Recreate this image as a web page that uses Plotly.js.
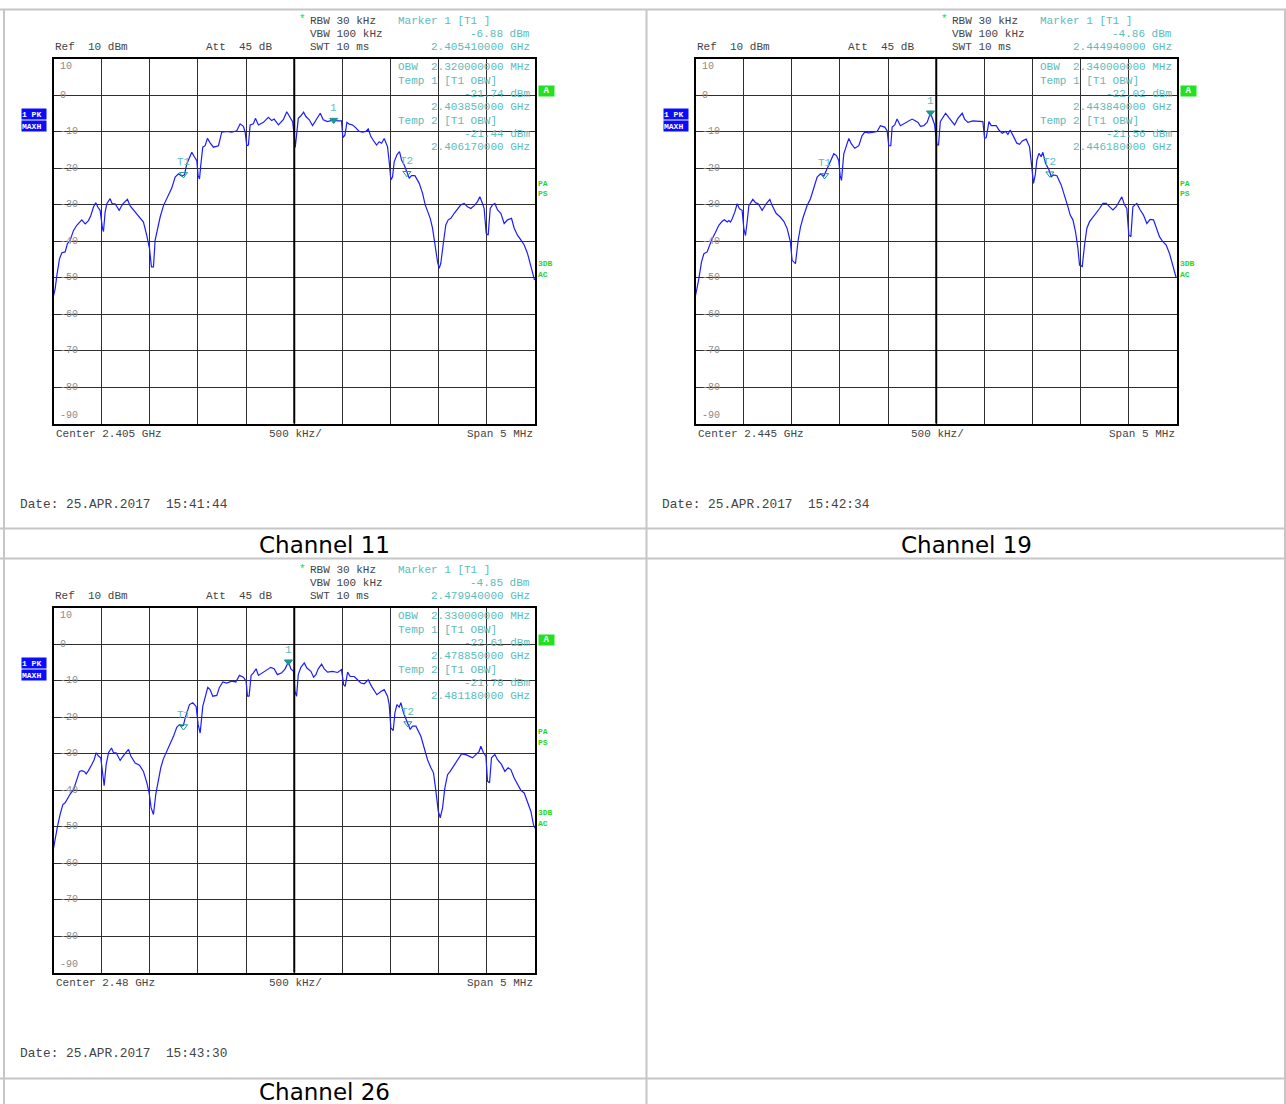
<!DOCTYPE html>
<html><head><meta charset="utf-8">
<script src="https://cdn.plot.ly/plotly-3.0.1.min.js"></script>
<style>body{margin:0;background:#fff}#chart{width:1286px;height:1104px}</style>
</head><body><div id="chart"></div>
<script>
// ---------- DATA ----------
const channels = ['Channel 11', 'Channel 19', 'Channel 26'];
const centerGHz = [2.405, 2.445, 2.48];
const marker1GHz = [2.405410, 2.444940, 2.479940];
const marker1dBm = [-6.88, -4.86, -4.85];
const obwMHz = [2.32, 2.34, 2.33];
const temp1GHz = [2.403850, 2.443840, 2.478850];
const temp1dBm = [-21.74, -22.02, -22.61];
const temp2GHz = [2.406170, 2.446180, 2.481180];
const temp2dBm = [-21.44, -21.56, -21.78];
const dates = ['25.APR.2017  15:41:44', '25.APR.2017  15:42:34', '25.APR.2017  15:43:30'];
const yTickVals = [10, 0, -10, -20, -30, -40, -50, -60, -70, -80, -90];

// trace: frequency offset from center (MHz) and level (dBm)
const ch11Freq = [-2.5,-2.483,-2.465,-2.438,-2.413,-2.379,-2.355,-2.327,-2.292,-2.258,-2.206,-2.171,-2.137,-2.112,-2.085,-2.061,-2.040,-2.016,-1.991,-1.981,-1.964,-1.946,-1.912,-1.891,-1.860,-1.818,-1.780,-1.732,-1.704,-1.652,-1.600,-1.566,-1.531,-1.503,-1.483,-1.462,-1.445,-1.420,-1.393,-1.358,-1.306,-1.272,-1.237,-1.202,-1.168,-1.140,-1.116,-1.088,-1.064,-1.036,-1.012,-0.998,-0.984,-0.971,-0.950,-0.926,-0.901,-0.874,-0.839,-0.787,-0.753,-0.701,-0.649,-0.597,-0.562,-0.528,-0.510,-0.493,-0.476,-0.458,-0.424,-0.403,-0.372,-0.320,-0.268,-0.234,-0.209,-0.164,-0.112,-0.078,
 -0.035,-0.017,0,0.010,0.024,0.042,0.069,0.097,0.121,0.156,0.190,0.225,0.270,0.301,0.346,0.408,0.450,0.491,0.505,0.526,0.547,0.571,0.606,0.640,0.675,0.709,0.744,0.768,0.796,0.830,0.855,0.882,0.907,0.934,0.969,0.986,1.003,1.021,1.038,1.066,1.093,1.114,1.142,1.176,1.194,1.218,1.253,1.298,1.332,1.360,1.384,1.412,1.436,1.460,1.488,1.505,1.522,1.550,1.574,1.599,1.626,1.661,1.696,1.730,1.765,1.799,1.834,1.869,1.903,1.927,1.955,1.972,1.993,2.014,2.035,2.059,2.083,2.111,2.145,2.180,2.215,2.256,2.284,2.318,2.353,2.388,2.422,2.457,2.484,2.495];
const ch11Level = [-55,-53.1,-49.4,-44.9,-43.2,-43.0,-40.7,-39.8,-37.1,-35.7,-34.2,-35.3,-34.4,-33.0,-30.7,-29.5,-30.7,-31.6,-36.6,-37.4,-32.1,-29.8,-28.4,-29.8,-29.8,-31.6,-29.8,-28.6,-30.4,-32.1,-33.5,-34.8,-38.5,-42.1,-47.1,-47.1,-39.8,-36.6,-33.5,-30.3,-27.5,-25.5,-22.5,-21.6,-22.2,-21.9,-18.9,-17.0,-15.7,-17.0,-18.0,-22.1,-23.0,-19.3,-14.3,-13.9,-11.9,-13.1,-14.3,-13.9,-10.2,-10.0,-10.2,-9.8,-7.9,-8.6,-10.2,-13.9,-13.7,-8.2,-7.9,-6.4,-8.2,-7.5,-6.1,-7.0,-6.6,-8.2,-6.7,-4.6,
 -6.4,-7.3,-11.0,-14.4,-11.0,-6.4,-5.7,-4.7,-5.9,-6.8,-8.4,-6.8,-5.0,-6.8,-7.3,-6.8,-7.1,-7.1,-11.7,-11.0,-7.5,-8.0,-8.2,-9.0,-10.0,-10.2,-10.0,-9.3,-11.4,-12.8,-13.7,-12.8,-13.2,-11.9,-14.2,-18.3,-23.3,-22.4,-18.3,-16.4,-15.5,-17.8,-19.2,-21.5,-22.8,-22.1,-22.1,-24.2,-26.9,-30.1,-32.0,-33.8,-36.5,-41.1,-45.7,-47.5,-46.1,-40.2,-35.6,-34.2,-33.8,-32.4,-31.1,-30.1,-29.7,-30.6,-31.1,-30.3,-29.2,-27.9,-29.7,-31.1,-37.9,-38.4,-31.1,-30.1,-29.7,-31.5,-32.4,-35.2,-34.2,-33.8,-36.5,-38.4,-39.7,-41.1,-43.4,-46.6,-49.8,-50.7];

const ch19Freq = [-2.5,-2.483,-2.465,-2.438,-2.413,-2.379,-2.362,-2.334,-2.292,-2.258,-2.223,-2.199,-2.171,-2.154,-2.137,-2.119,-2.092,-2.067,-2.043,-2.016,-1.998,-1.981,-1.964,-1.946,-1.905,-1.877,-1.849,-1.808,-1.766,-1.728,-1.704,-1.663,-1.618,-1.583,-1.548,-1.514,-1.497,-1.462,-1.434,-1.410,-1.382,-1.341,-1.306,-1.272,-1.237,-1.202,-1.168,-1.133,-1.099,-1.064,-1.036,-1.012,-0.998,-0.984,-0.960,-0.936,-0.908,-0.881,-0.846,-0.804,-0.770,-0.742,-0.701,-0.649,-0.614,-0.580,-0.535,-0.510,-0.493,-0.472,-0.458,-0.431,-0.407,-0.372,-0.320,-0.279,-0.251,-0.223,-0.189,-0.164,-0.130,-0.095,-0.06,
 -0.035,-0.017,0.007,0.024,0.042,0.069,0.097,0.131,0.166,0.190,0.225,0.270,0.294,0.329,0.381,0.433,0.484,0.502,0.519,0.547,0.571,0.623,0.651,0.685,0.720,0.744,0.768,0.803,0.837,0.865,0.893,0.934,0.969,0.990,1.010,1.028,1.045,1.066,1.090,1.107,1.135,1.170,1.194,1.218,1.253,1.298,1.332,1.367,1.391,1.419,1.446,1.471,1.488,1.516,1.540,1.564,1.592,1.619,1.654,1.696,1.730,1.765,1.799,1.834,1.869,1.903,1.927,1.955,1.979,2.000,2.021,2.042,2.083,2.118,2.152,2.187,2.221,2.256,2.284,2.318,2.353,2.388,2.422,2.457,2.491];
const ch19Level = [-55,-53.1,-50.3,-45.8,-43.5,-43.0,-41.7,-39.8,-37.6,-35.7,-34.6,-34.2,-34.8,-34.4,-34.8,-33.9,-32.1,-29.8,-31.2,-31.6,-36.6,-38.5,-34.8,-30.3,-28.6,-29.5,-29.8,-31.6,-29.8,-28.6,-30.3,-32.4,-33.5,-34.6,-36.6,-40.3,-45.3,-46.2,-39.8,-36.2,-33.5,-30.3,-28.4,-25.5,-22.5,-21.6,-22.2,-20.2,-18.0,-16.1,-16.6,-18.0,-22.1,-23.4,-16.1,-14.3,-11.9,-13.4,-14.6,-13.9,-11.1,-10.2,-10.4,-10.2,-10.0,-8.4,-8.8,-9.8,-13.9,-13.9,-8.8,-8.2,-6.6,-8.4,-7.7,-7.0,-6.6,-7.0,-7.5,-8.6,-8.4,-7.5,-4.9,
 -6.8,-8.2,-13.7,-13.7,-7.3,-6.2,-5.0,-6.2,-7.3,-8.2,-6.4,-5.0,-6.6,-7.5,-7.1,-7.3,-7.3,-11.9,-11.7,-7.3,-8.4,-8.4,-9.6,-10.5,-10.0,-10.8,-9.6,-11.4,-13.2,-13.5,-12.6,-12.1,-14.2,-19.2,-24.2,-21.9,-17.8,-16.0,-16.9,-15.7,-18.7,-20.5,-22.4,-21.9,-22.1,-24.7,-27.4,-30.6,-32.9,-34.2,-37.4,-42.0,-46.6,-47.0,-41.1,-36.5,-34.7,-33.8,-32.4,-31.1,-29.7,-29.7,-30.6,-31.5,-30.6,-29.2,-27.9,-30.1,-31.1,-38.4,-38.8,-30.6,-29.7,-31.5,-32.9,-35.2,-34.1,-34.2,-36.5,-38.8,-40.2,-41.1,-43.4,-46.6,-50.0];

const ch26Freq = [-2.5,-2.483,-2.458,-2.431,-2.403,-2.379,-2.355,-2.327,-2.292,-2.258,-2.230,-2.206,-2.178,-2.161,-2.137,-2.102,-2.078,-2.057,-2.033,-2.009,-1.988,-1.974,-1.953,-1.929,-1.898,-1.877,-1.849,-1.808,-1.766,-1.721,-1.697,-1.652,-1.607,-1.566,-1.531,-1.507,-1.486,-1.462,-1.438,-1.410,-1.386,-1.358,-1.324,-1.289,-1.254,-1.220,-1.192,-1.168,-1.151,-1.133,-1.088,-1.054,-1.019,-0.998,-0.977,-0.950,-0.926,-0.898,-0.874,-0.846,-0.804,-0.777,-0.742,-0.701,-0.649,-0.607,-0.569,-0.528,-0.500,-0.486,-0.469,-0.448,-0.424,-0.396,-0.372,-0.320,-0.268,-0.244,-0.209,-0.175,-0.130,-0.095,-0.06,
 -0.035,-0.007,0.007,0.024,0.042,0.069,0.104,0.131,0.173,0.201,0.225,0.249,0.284,0.311,0.346,0.398,0.450,0.491,0.512,0.529,0.554,0.581,0.623,0.657,0.692,0.727,0.768,0.803,0.830,0.858,0.900,0.934,0.969,0.986,1.003,1.028,1.045,1.066,1.090,1.107,1.135,1.176,1.204,1.228,1.263,1.315,1.349,1.384,1.419,1.446,1.471,1.495,1.516,1.540,1.564,1.592,1.619,1.654,1.696,1.737,1.782,1.817,1.851,1.886,1.920,1.938,1.965,1.990,2.007,2.028,2.048,2.083,2.111,2.152,2.187,2.221,2.249,2.284,2.318,2.353,2.388,2.422,2.457,2.484,2.5];
const ch26Level = [-56,-53.1,-49.9,-46.7,-44.0,-43.5,-42.2,-41.1,-39.9,-37.1,-34.9,-34.7,-35.0,-35.6,-34.7,-33.0,-31.7,-29.8,-30.7,-31.2,-36.7,-38.8,-33.0,-29.8,-28.5,-29.8,-29.8,-31.9,-30.3,-28.9,-30.7,-32.6,-33.2,-34.9,-38.0,-40.8,-44.9,-46.7,-41.2,-36.7,-33.9,-31.4,-29.4,-27.1,-25.3,-22.8,-22.1,-22.5,-22.3,-20.3,-16.6,-16.1,-17.1,-22.1,-24.4,-17.1,-14.8,-11.9,-12.5,-14.3,-14.1,-11.9,-10.4,-10.7,-10.2,-10.4,-8.6,-9.1,-10.2,-14.3,-14.3,-8.6,-7.9,-6.8,-8.6,-7.7,-7.0,-6.4,-6.8,-8.4,-7.9,-6.8,-4.85,
 -6.8,-7.5,-13.0,-14.3,-8.4,-6.4,-5.2,-6.6,-7.5,-9.1,-8.4,-6.8,-5.5,-6.8,-7.7,-7.5,-7.8,-7.0,-11.1,-11.6,-7.7,-8.9,-8.9,-9.8,-10.7,-10.9,-9.8,-11.6,-12.8,-13.9,-13.0,-12.5,-14.3,-16.6,-23.0,-23.7,-18.9,-16.6,-17.3,-16.1,-18.9,-21.6,-23.4,-22.5,-22.5,-25.3,-28.5,-31.7,-33.9,-35.3,-40.3,-45.8,-47.6,-44.9,-39.4,-35.8,-34.9,-33.5,-32.1,-30.1,-30.3,-30.7,-31.2,-30.3,-29.4,-28.0,-29.8,-30.7,-37.6,-38.0,-31.2,-30.3,-31.7,-33.0,-34.9,-33.9,-34.4,-36.7,-38.5,-40.1,-40.8,-43.1,-45.8,-49.5,-50.5];

const traceFreq = [ch11Freq, ch19Freq, ch26Freq];
const traceLevel = [ch11Level, ch19Level, ch26Level];

// ---------- LAYOUT ----------
const W = 1286, H = 1104;
const X = p => p / W, Y = p => 1 - p / H;
const PW = 481.5, PH = 365;
const origins = [[53.5, 58.5], [695.5, 58.5], [53.5, 607.5]];
const captionPos = [[324.5, 545], [966.5, 545], [324.5, 1091.5]];
const mono = '"Liberation Mono", "Courier New", monospace';
const DARK = '#444444', TEAL = '#5bbcbc', TEALD = '#1f9595', GREEN = '#1fd81f';

const traces = [], annotations = [], shapes = [];
const layout = {
  width: W, height: H, margin: {l: 0, r: 0, t: 0, b: 0},
  paper_bgcolor: '#fff', plot_bgcolor: '#fff', showlegend: false,
  annotations, shapes
};

function txt(x, y, text, o = {}) {
  annotations.push(Object.assign({
    xref: 'paper', yref: 'paper', x: X(x), y: Y(y), text, showarrow: false,
    xanchor: 'left', yanchor: 'middle', borderpad: 0,
    font: {family: mono, size: 11, color: DARK}
  }, o));
}

// table borders
const BC = '#c6c6c6';
[9.5, 528.5, 558.5, 1078.5].forEach(y =>
  shapes.push({type: 'line', xref: 'paper', yref: 'paper', x0: 0, x1: 1, y0: Y(y), y1: Y(y), line: {color: BC, width: 2}}));
[4, 646.5, 1285].forEach(x =>
  shapes.push({type: 'line', xref: 'paper', yref: 'paper', x0: X(x), x1: X(x), y0: Y(9.5), y1: 0, line: {color: BC, width: 2}}));

for (let i = 0; i < 3; i++) {
  const s = i === 0 ? '' : String(i + 1);
  const [ox, oy] = origins[i];
  const c = centerGHz[i] * 1000; // MHz
  layout['xaxis' + s] = {
    domain: [X(ox), X(ox + PW)], anchor: 'y' + s, range: [c - 2.5, c + 2.5],
    tick0: c, dtick: 0.5, showgrid: true, gridcolor: '#2e2e2e', gridwidth: 1,
    showline: true, mirror: true, linecolor: '#000', linewidth: 2,
    showticklabels: false, ticks: '', zeroline: false, fixedrange: true
  };
  layout['yaxis' + s] = {
    domain: [Y(oy + PH), Y(oy)], anchor: 'x' + s, range: [-90, 10],
    tick0: 0, dtick: 10, showgrid: true, gridcolor: '#2e2e2e', gridwidth: 1,
    showline: true, mirror: true, linecolor: '#000', linewidth: 2,
    showticklabels: false, ticks: '', zeroline: false, fixedrange: true
  };
  shapes.push({type: 'line', xref: 'x' + s, yref: 'y' + s + ' domain', x0: c, x1: c, y0: 0, y1: 1, line: {color: '#000', width: 2}});

  traces.push({
    type: 'scatter', mode: 'lines', xaxis: 'x' + s, yaxis: 'y' + s,
    x: traceFreq[i].map(f => c + f), y: traceLevel[i],
    line: {color: '#1c1cff', width: 1.2}, hoverinfo: 'skip'
  });

  // marker symbols (1 filled, T1/T2 open)
  traces.push({
    type: 'scatter', mode: 'markers', xaxis: 'x' + s, yaxis: 'y' + s,
    x: [marker1GHz[i] * 1000, temp1GHz[i] * 1000, temp2GHz[i] * 1000],
    y: [marker1dBm[i], temp1dBm[i], temp2dBm[i]],
    marker: {symbol: ['triangle-down', 'triangle-down-open', 'triangle-down-open'], size: 7,
      color: TEALD, line: {color: TEALD, width: 1}},
    hoverinfo: 'skip'
  });

  yTickVals.forEach(v => {
    let py = oy + (10 - v) / 100 * PH;
    if (v === 10) py += 7.5;
    if (v === -90) py -= 8;
    txt(ox + 5.5, py, String(v), {font: {family: mono, size: 10, color: '#8a8a8a'}});
  });

  txt(ox + 249, oy - 39, '*', {xanchor: 'center', font: {family: mono, size: 11, color: GREEN}});
  txt(ox + 255, oy - 37.5, 'RBW 30 kHz');
  txt(ox + 255, oy - 24.5, 'VBW 100 kHz');
  txt(ox + 255, oy - 11.5, 'SWT 10 ms');
  txt(ox + 0.5, oy - 11.5, 'Ref  10 dBm');
  txt(ox + 151, oy - 11.5, 'Att  45 dB');
  const tf = {family: mono, size: 11, color: TEAL};
  txt(ox + 343, oy - 37.5, 'Marker 1 [T1 ]', {font: tf});
  txt(ox + 477.5, oy - 24.5, marker1dBm[i].toFixed(2) + ' dBm', {xanchor: 'right', font: tf});
  txt(ox + 477.5, oy - 11.5, marker1GHz[i].toFixed(9) + ' GHz', {xanchor: 'right', font: tf});
  txt(ox + 343, oy + 8.8, 'OBW  ' + obwMHz[i].toFixed(9) + ' MHz', {font: tf});
  txt(ox + 343, oy + 22.2, 'Temp 1 [T1 OBW]', {font: tf});
  txt(ox + 477.5, oy + 35.5, temp1dBm[i].toFixed(2) + ' dBm', {xanchor: 'right', font: tf});
  txt(ox + 477.5, oy + 48.8, temp1GHz[i].toFixed(9) + ' GHz', {xanchor: 'right', font: tf});
  txt(ox + 343, oy + 62.2, 'Temp 2 [T1 OBW]', {font: tf});
  txt(ox + 477.5, oy + 75.5, temp2dBm[i].toFixed(2) + ' dBm', {xanchor: 'right', font: tf});
  txt(ox + 477.5, oy + 88.8, temp2GHz[i].toFixed(9) + ' GHz', {xanchor: 'right', font: tf});

  txt(ox + 1.5, oy + PH + 10, 'Center ' + String(centerGHz[i]) + ' GHz');
  txt(ox + 214.5, oy + PH + 10, '500 kHz/');
  txt(ox + 480.5, oy + PH + 10, 'Span 5 MHz', {xanchor: 'right'});
  txt(ox - 34.5, oy + 446, 'Date: ' + dates[i], {font: {family: mono, size: 12.8, color: DARK}});

  const bf = {family: mono, size: 8, color: '#fff'};
  txt(ox - 33, oy + 55.5, '<b>1 PK</b>', {bgcolor: '#0b0bff', width: 24, height: 10, align: 'left', font: bf});
  txt(ox - 33, oy + 67.5, '<b>MAXH</b>', {bgcolor: '#0b0bff', width: 24, height: 10, align: 'left', font: bf});
  txt(ox + 484, oy + 32.5, '<b>A</b>', {bgcolor: '#22e022', width: 15, height: 10, align: 'center', font: {family: mono, size: 9, color: '#fff'}});
  const gf = {family: mono, size: 8, color: GREEN};
  txt(ox + 483.5, oy + 124.5, '<b>PA</b>', {font: gf});
  txt(ox + 483.5, oy + 134.5, '<b>PS</b>', {font: gf});
  txt(ox + 483.5, oy + 204.5, '<b>3DB</b>', {font: gf});
  txt(ox + 483.5, oy + 215.5, '<b>AC</b>', {font: gf});

  // marker labels
  [[marker1GHz[i], marker1dBm[i], '1'], [temp1GHz[i], temp1dBm[i], 'T1'], [temp2GHz[i], temp2dBm[i], 'T2']]
    .forEach(([f, l, label]) => annotations.push({
      xref: 'x' + s, yref: 'y' + s, x: f * 1000, y: l, text: label, showarrow: false,
      xanchor: 'center', yanchor: 'bottom', yshift: 4,
      font: {family: mono, size: 11, color: TEAL}}));

  txt(captionPos[i][0], captionPos[i][1], channels[i], {xanchor: 'center', font: {family: 'DejaVu Sans', size: 23, color: '#000'}});
}

Plotly.newPlot('chart', traces, layout, {staticPlot: true, displayModeBar: false});
</script>
</body></html>
